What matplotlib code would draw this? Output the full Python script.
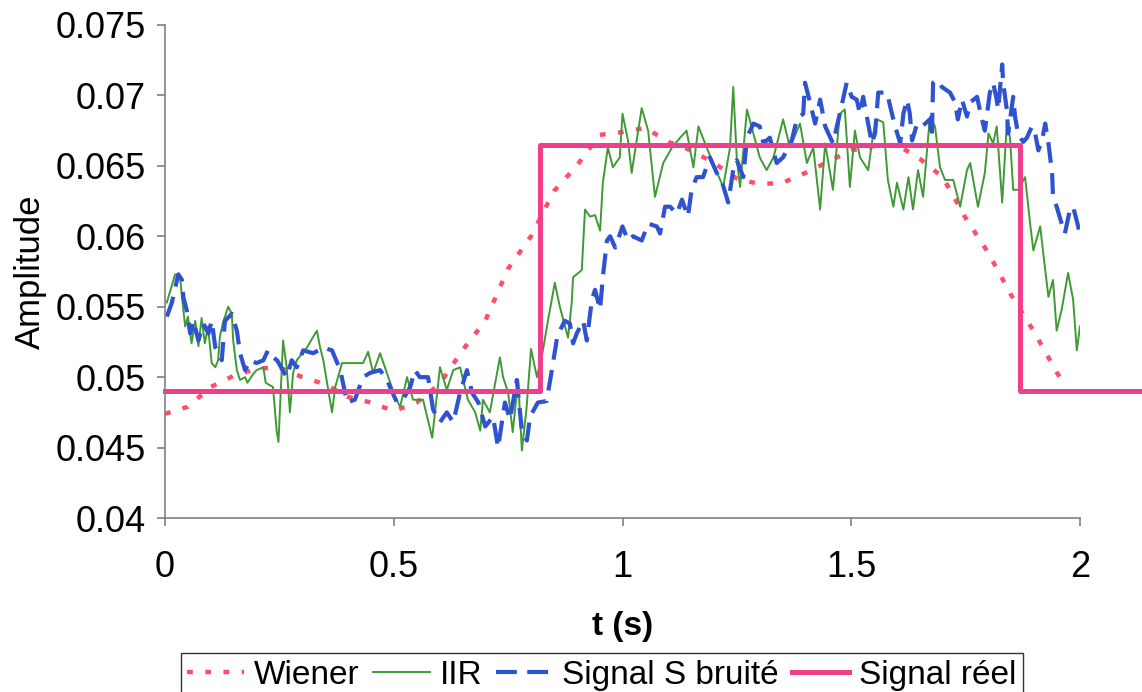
import numpy as np
import matplotlib
matplotlib.use("Agg")
import matplotlib.pyplot as plt

plt.rcParams['font.family'] = ['Liberation Sans', 'DejaVu Sans']

# Wiener (smooth estimate)
t_wiener = [0, 0.05, 0.1, 0.15, 0.2, 0.25, 0.3, 0.35, 0.4, 0.45, 0.5, 0.55, 0.6, 0.65,
            0.7, 0.75, 0.8, 0.85, 0.9, 0.95, 1.0, 1.05, 1.1, 1.15, 1.2, 1.25, 1.3, 1.35,
            1.4, 1.45, 1.5, 1.55, 1.6, 1.65, 1.7, 1.75, 1.8, 1.85, 1.9, 1.95, 1.97]
wiener = [0.0474, 0.0479, 0.0493, 0.0501, 0.0506, 0.0507, 0.0500, 0.0495, 0.0486, 0.0482,
          0.0476, 0.0482, 0.0495, 0.0519, 0.0540, 0.0577, 0.0600, 0.0632, 0.0650, 0.0672,
          0.0674, 0.0677, 0.0667, 0.0661, 0.0652, 0.0641, 0.0637, 0.0638, 0.0645, 0.0653,
          0.0661, 0.0664, 0.0665, 0.0655, 0.0642, 0.0613, 0.0588, 0.0558, 0.0532, 0.0503,
          0.0493]

# IIR filter output
t_iir = [0.004, 0.022, 0.033, 0.037, 0.044, 0.05, 0.058, 0.066, 0.073, 0.08,
         0.087, 0.094, 0.102, 0.11, 0.116, 0.12, 0.127, 0.138, 0.146, 0.149,
         0.157, 0.164, 0.175, 0.18, 0.19, 0.2, 0.215, 0.22, 0.236, 0.244,
         0.248, 0.258, 0.266, 0.273, 0.28, 0.288, 0.31, 0.332, 0.339, 0.346,
         0.365, 0.372, 0.387, 0.404, 0.433, 0.444, 0.455, 0.47, 0.485, 0.503,
         0.514, 0.529, 0.542, 0.564, 0.584, 0.601, 0.616, 0.63, 0.645, 0.662,
         0.678, 0.689, 0.695, 0.71, 0.732, 0.739, 0.75, 0.76, 0.772, 0.78,
         0.79, 0.8, 0.813, 0.826, 0.837, 0.852, 0.863, 0.881, 0.889, 0.892,
         0.911, 0.918, 0.929, 0.94, 0.951, 0.957, 0.968, 0.979, 0.994, 1.0,
         1.012, 1.02, 1.042, 1.056, 1.071, 1.089, 1.108, 1.126, 1.14, 1.155,
         1.166, 1.184, 1.198, 1.22, 1.235, 1.242, 1.25, 1.257, 1.272, 1.286,
         1.3, 1.315, 1.33, 1.351, 1.366, 1.388, 1.403, 1.417, 1.432, 1.443,
         1.46, 1.475, 1.486, 1.497, 1.508, 1.519, 1.537, 1.548, 1.556, 1.57,
         1.58, 1.592, 1.6, 1.614, 1.625, 1.635, 1.646, 1.657, 1.672, 1.683,
         1.694, 1.705, 1.723, 1.738, 1.753, 1.76, 1.777, 1.792, 1.8, 1.81,
         1.818, 1.83, 1.84, 1.847, 1.854, 1.865, 1.88, 1.891, 1.898, 1.913,
         1.924, 1.931, 1.941, 1.949, 1.96, 1.974, 1.985, 1.993, 2.0]
iir = [0.0553, 0.0573, 0.0571, 0.0557, 0.0536, 0.0543, 0.0524, 0.054, 0.0522, 0.0542,
       0.0524, 0.0536, 0.051, 0.0507, 0.0512, 0.0529, 0.0539, 0.055, 0.0545, 0.0526,
       0.0505, 0.0498, 0.050, 0.0496, 0.0501, 0.0505, 0.0507, 0.0496, 0.0493, 0.0462,
       0.0454, 0.0526, 0.0507, 0.0475, 0.0503, 0.0512, 0.0521, 0.0533, 0.0521, 0.0512,
       0.0475, 0.0493, 0.051, 0.051, 0.051, 0.0518, 0.0503, 0.0517, 0.0503, 0.0486,
       0.0479, 0.050, 0.0484, 0.0484, 0.0457, 0.0507, 0.0491, 0.0505, 0.0507, 0.0484,
       0.0475, 0.0462, 0.0484, 0.0475, 0.0514, 0.050, 0.0489, 0.0461, 0.0498, 0.0448,
       0.0477, 0.052, 0.050, 0.0519, 0.054, 0.0567, 0.055, 0.0528, 0.0553, 0.0571,
       0.0576, 0.0619, 0.0614, 0.0615, 0.0604, 0.0638, 0.0663, 0.0649, 0.0656, 0.0687,
       0.0668, 0.0645, 0.0691, 0.0675, 0.0628, 0.0652, 0.0663, 0.067, 0.0675, 0.0649,
       0.0678, 0.0663, 0.0652, 0.0635, 0.0663, 0.0706, 0.0654, 0.0635, 0.069, 0.0673,
       0.0656, 0.0647, 0.0656, 0.0683, 0.0663, 0.068, 0.0652, 0.0663, 0.0619, 0.0666,
       0.0633, 0.0687, 0.069, 0.0635, 0.0675, 0.0656, 0.0647, 0.0673, 0.0683, 0.0681,
       0.064, 0.0621, 0.0638, 0.0619, 0.0642, 0.0619, 0.0647, 0.0628, 0.0685, 0.0678,
       0.0649, 0.064, 0.064, 0.0621, 0.0647, 0.0652, 0.0621, 0.0645, 0.0673, 0.0666,
       0.0678, 0.0624, 0.068, 0.067, 0.0633, 0.0633, 0.0642, 0.0609, 0.059, 0.0607,
       0.0576, 0.0557, 0.0569, 0.0533, 0.0548, 0.0574, 0.0555, 0.0519, 0.0536]

# noisy signal S
t_noisy = [0.004, 0.015, 0.029, 0.037, 0.04, 0.047, 0.055, 0.062, 0.073, 0.084,
           0.095, 0.102, 0.11, 0.124, 0.131, 0.146, 0.157, 0.164, 0.175, 0.186,
           0.2, 0.215, 0.225, 0.236, 0.245, 0.266, 0.277, 0.288, 0.302, 0.324,
           0.346, 0.365, 0.383, 0.398, 0.415, 0.433, 0.448, 0.47, 0.485, 0.507,
           0.52, 0.536, 0.546, 0.557, 0.575, 0.586, 0.601, 0.616, 0.63, 0.645,
           0.66, 0.671, 0.685, 0.7, 0.717, 0.728, 0.743, 0.754, 0.769, 0.78,
           0.791, 0.798, 0.815, 0.834, 0.842, 0.848, 0.857, 0.863, 0.874, 0.885,
           0.892, 0.9, 0.914, 0.922, 0.933, 0.94, 0.951, 0.957, 0.966, 0.973,
           0.984, 1.0, 1.012, 1.023, 1.042, 1.056, 1.075, 1.082, 1.093, 1.104,
           1.119, 1.13, 1.143, 1.151, 1.162, 1.176, 1.191, 1.206, 1.218, 1.231,
           1.242, 1.25, 1.264, 1.272, 1.286, 1.3, 1.308, 1.322, 1.337, 1.351,
           1.37, 1.381, 1.395, 1.399, 1.41, 1.421, 1.432, 1.443, 1.46, 1.475,
           1.49, 1.501, 1.512, 1.519, 1.526, 1.534, 1.545, 1.552, 1.559, 1.578,
           1.589, 1.596, 1.607, 1.614, 1.622, 1.628, 1.633, 1.644, 1.655, 1.672,
           1.676, 1.679, 1.69, 1.698, 1.716, 1.727, 1.733, 1.742, 1.753, 1.76,
           1.775, 1.781, 1.788, 1.792, 1.803, 1.81, 1.818, 1.821, 1.83, 1.832,
           1.84, 1.843, 1.854, 1.858, 1.865, 1.876, 1.884, 1.895, 1.902, 1.909,
           1.917, 1.924, 1.931, 1.939, 1.941, 1.949, 1.96, 1.967, 1.978, 1.985,
           1.996, 2.0]
noisy = [0.0543, 0.0553, 0.0573, 0.0569, 0.0557, 0.0548, 0.0531, 0.054, 0.0526, 0.0538,
         0.0531, 0.054, 0.0521, 0.0512, 0.054, 0.0545, 0.0533, 0.0517, 0.0505, 0.0512,
         0.051, 0.0512, 0.0519, 0.0514, 0.0512, 0.050, 0.0512, 0.0507, 0.0519, 0.0517,
         0.0521, 0.0519, 0.0505, 0.0482, 0.0484, 0.050, 0.0503, 0.0505, 0.0498, 0.0482,
         0.0484, 0.0493, 0.0505, 0.050, 0.050, 0.0477, 0.0468, 0.0475, 0.0468, 0.0489,
         0.0505, 0.0489, 0.0482, 0.0465, 0.0472, 0.045, 0.0482, 0.047, 0.0498, 0.0462,
         0.0455, 0.0472, 0.0482, 0.0483, 0.0498, 0.051, 0.0528, 0.0533, 0.054, 0.0538,
         0.0524, 0.0531, 0.054, 0.0526, 0.0555, 0.0562, 0.0548, 0.0571, 0.0597, 0.06,
         0.0592, 0.0607, 0.0597, 0.06, 0.0597, 0.0609, 0.0607, 0.0602, 0.0621, 0.0621,
         0.0616, 0.0626, 0.0614, 0.0633, 0.0642, 0.0642, 0.0656, 0.0645, 0.0638, 0.0624,
         0.0647, 0.0654, 0.0642, 0.067, 0.068, 0.0678, 0.0666, 0.067, 0.0652, 0.0656,
         0.0668, 0.0683, 0.0687, 0.0709, 0.0695, 0.068, 0.0697, 0.0678, 0.0666, 0.0687,
         0.0709, 0.0699, 0.0697, 0.0687, 0.0699, 0.0685, 0.0666, 0.0673, 0.0702, 0.0702,
         0.0687, 0.0678, 0.0666, 0.0687, 0.0697, 0.0687, 0.0668, 0.068, 0.0678, 0.0683,
         0.067, 0.0709, 0.0711, 0.0706, 0.0702, 0.0695, 0.0683, 0.0697, 0.0685, 0.0695,
         0.0699, 0.069, 0.068, 0.0675, 0.0702, 0.0709, 0.0697, 0.069, 0.0722, 0.0709,
         0.069, 0.0673, 0.0699, 0.0685, 0.0672, 0.0667, 0.067, 0.0678, 0.0673, 0.0661,
         0.0668, 0.068, 0.0666, 0.0645, 0.0628, 0.0621, 0.0609, 0.0602, 0.0619, 0.0621,
         0.0607, 0.0601]

# true signal (step)
t_real = [0, 0.82, 0.82, 1.869, 1.869, 2.135]
real = [0.049, 0.049, 0.0665, 0.0665, 0.049, 0.049]

fig = plt.figure(figsize=(11.42, 6.92), dpi=100)
ax = fig.add_axes([0.1445, 0.2514, 0.8012, 0.7125])

ax.plot(t_wiener, wiener, color='#ff4d6a', lw=3.2, linestyle=(0, (1.3, 2.8)), label='Wiener')
ax.plot(t_iir, iir, color='#3f9a35', lw=1.4, label='IIR')
ax.plot(t_noisy, noisy, color='#2f52d0', lw=3.0, linestyle=(0, (5, 2.5)), label='Signal S bruité')
ax.plot(t_real, real, color='#ee3f8a', lw=3.6, clip_on=False, label='Signal réel')

ax.set_xlim(0, 2)
ax.set_ylim(0.04, 0.075)
ax.set_xticks([0, 0.5, 1, 1.5, 2])
ax.set_xticklabels(['0', '0.5', '1', '1.5', '2'])
ax.set_yticks([0.04, 0.045, 0.05, 0.055, 0.06, 0.065, 0.07, 0.075])
ax.set_yticklabels(['0.04', '0.045', '0.05', '0.055', '0.06', '0.065', '0.07', '0.075'])

for s in ['top', 'right']:
    ax.spines[s].set_visible(False)
for s in ['left', 'bottom']:
    ax.spines[s].set_color('#808080')
    ax.spines[s].set_linewidth(1.2)
ax.tick_params(axis='both', direction='out', length=6, width=1.2, color='#808080', labelsize=26)
ax.tick_params(axis='y', pad=8)
ax.tick_params(axis='x', pad=17)

ax.set_ylabel('Amplitude', fontsize=25, labelpad=6)
ax.set_xlabel('t (s)', fontsize=24, fontweight='bold', labelpad=19)

leg = fig.legend(loc='upper center', bbox_to_anchor=(0.527, 0.056), ncol=4, fontsize=24,
                 frameon=True, fancybox=False, edgecolor='black', borderpad=0.2,
                 handlelength=1.7, handletextpad=0.3, columnspacing=0.4, borderaxespad=0)
leg.get_frame().set_linewidth(1.0)

fig.savefig('out.png', dpi=100)
